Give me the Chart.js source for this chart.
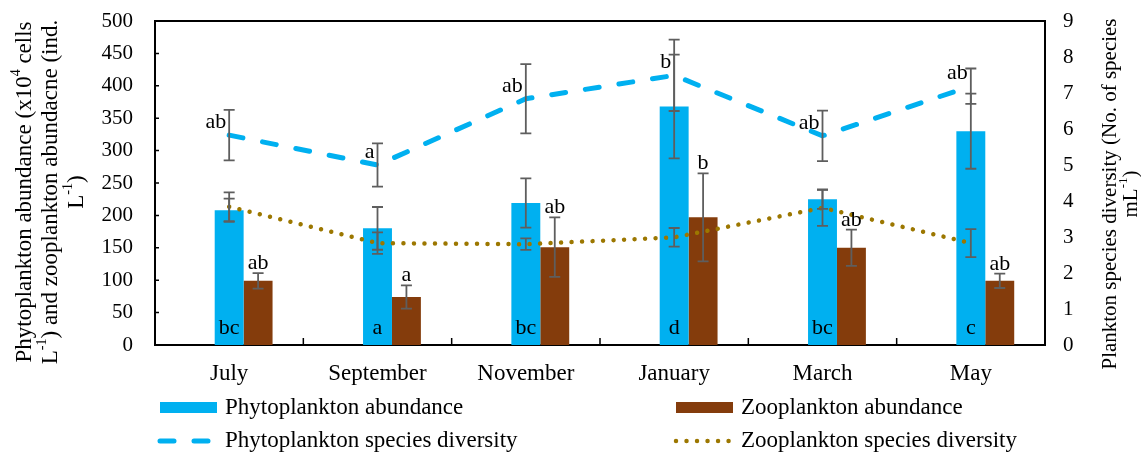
<!DOCTYPE html>
<html>
<head>
<meta charset="utf-8">
<script src="https://cdn.jsdelivr.net/npm/chart.js@4"></script>
<style>
  html, body { margin: 0; padding: 0; background: #ffffff; }
  #wrap { width: 1141px; height: 452px; }
</style>
</head>
<body>
<div id="wrap"><canvas id="c" width="1141" height="452"></canvas></div>
<script>
// Sampling months
const months = ['July', 'September', 'November', 'January', 'March', 'May'];

// Abundance (left axis) with standard errors
const phytoAbundance    = [208, 180, 219, 368, 225, 330];
const phytoAbundanceErr = [18, 33, 38, 80, 15, 58];
const zooAbundance      = [99, 74, 151, 197, 150, 99];
const zooAbundanceErr   = [12, 18, 46, 68, 28, 11];

// Species diversity (right axis) with standard errors
const phytoDiversity    = [5.83, 5.0, 6.84, 7.49, 5.81, 7.19];
const phytoDiversityErr = [0.7, 0.6, 0.96, 0.99, 0.7, 0.49];
const zooDiversity      = [3.84, 2.83, 2.8, 2.99, 3.81, 2.83];
const zooDiversityErr   = [0.4, 0.3, 0.16, 0.26, 0.5, 0.39];

// Significance letters
const phytoAbundanceLetters = ['bc', 'a', 'bc', 'd', 'bc', 'c'];
const zooAbundanceLetters   = ['ab', 'a', 'ab', 'b', 'ab', 'ab'];
const phytoDiversityLetters = ['ab', 'a', 'ab', 'b', 'ab', 'ab'];

// Axis ticks
const leftTicks  = [0, 50, 100, 150, 200, 250, 300, 350, 400, 450, 500];
const rightTicks = [0, 1, 2, 3, 4, 5, 6, 7, 8, 9];

const SERIF = "'Liberation Serif', 'Times New Roman', serif";
const BLUE = '#00B0F0';
const BROWN = '#843C0C';
const GOLD = '#9C7700';
const ERR = '#5E5E5E';

// Draws a line of text with optional superscript runs, centred on (0,0)
function richText(ctx, parts, size) {
  const supSize = Math.round(size * 0.62);
  let total = 0;
  const widths = parts.map(p => {
    ctx.font = (p.sup ? supSize : size) + 'px ' + SERIF;
    const w = ctx.measureText(p.t).width;
    total += w;
    return w;
  });
  let x = -total / 2;
  parts.forEach((p, i) => {
    ctx.font = (p.sup ? supSize : size) + 'px ' + SERIF;
    ctx.fillText(p.t, x, p.sup ? -size * 0.36 : 0);
    x += widths[i];
  });
}

const extras = {
  id: 'planktonExtras',
  afterDatasetsDraw(chart) {
    const ctx = chart.ctx;
    const area = chart.chartArea;
    const y = chart.scales.y, y1 = chart.scales.y1, x = chart.scales.x;

    // error bars
    const drawErr = (px, scale, v, e) => {
      const top = scale.getPixelForValue(v + e);
      const bot = scale.getPixelForValue(v - e);
      ctx.beginPath();
      ctx.moveTo(px, top); ctx.lineTo(px, bot);
      ctx.moveTo(px - 5.5, top); ctx.lineTo(px + 5.5, top);
      ctx.moveTo(px - 5.5, bot); ctx.lineTo(px + 5.5, bot);
      ctx.stroke();
    };
    ctx.save();
    ctx.strokeStyle = ERR;
    ctx.lineWidth = 1.8;
    const phytoBars = chart.getDatasetMeta(1).data;
    const zooBars = chart.getDatasetMeta(2).data;
    const phytoLine = chart.getDatasetMeta(3).data;
    const zooLine = chart.getDatasetMeta(4).data;
    months.forEach((m, i) => {
      drawErr(phytoBars[i].x, y, phytoAbundance[i], phytoAbundanceErr[i]);
      drawErr(zooBars[i].x, y, zooAbundance[i], zooAbundanceErr[i]);
      drawErr(phytoLine[i].x, y1, phytoDiversity[i], phytoDiversityErr[i]);
      drawErr(zooLine[i].x, y1, zooDiversity[i], zooDiversityErr[i]);
    });

    // letters
    ctx.fillStyle = '#000';
    ctx.font = '22px ' + SERIF;
    ctx.textBaseline = 'alphabetic';
    months.forEach((m, i) => {
      ctx.textAlign = 'center';
      ctx.fillText(phytoAbundanceLetters[i], phytoBars[i].x, area.bottom - 11);
      const zTop = y.getPixelForValue(zooAbundance[i] + zooAbundanceErr[i]);
      ctx.fillText(zooAbundanceLetters[i], zooBars[i].x, zTop - 4);
      ctx.textAlign = 'right';
      ctx.fillText(phytoDiversityLetters[i], phytoLine[i].x - 3, phytoLine[i].y - 7);
    });

    // frame: top edge and inward tick marks
    ctx.strokeStyle = '#000';
    ctx.lineWidth = 2;
    ctx.beginPath();
    ctx.moveTo(area.left - 1, area.top);
    ctx.lineTo(area.right + 1, area.top);
    ctx.stroke();
    ctx.lineWidth = 1.5;
    ctx.beginPath();
    leftTicks.forEach(v => {
      const py = y.getPixelForValue(v);
      ctx.moveTo(area.left, py); ctx.lineTo(area.left + 4, py);
    });
    for (let i = 0; i < months.length - 1; i++) {
      const bx = (x.getPixelForValue(i) + x.getPixelForValue(i + 1)) / 2;
      ctx.moveTo(bx, area.bottom); ctx.lineTo(bx, area.bottom - 7);
    }
    ctx.stroke();
    ctx.restore();
  },
  afterDraw(chart) {
    const ctx = chart.ctx;
    ctx.save();
    ctx.fillStyle = '#000';
    ctx.textAlign = 'left';
    ctx.textBaseline = 'middle';

    // left axis title
    const leftLines = [
      [{ t: 'Phytoplankton abundance (x10' }, { t: '4', sup: true }, { t: ' cells' }],
      [{ t: 'L' }, { t: '-1', sup: true }, { t: ') and zooplankton abundacne (ind.' }],
      [{ t: 'L' }, { t: '-1', sup: true }, { t: ')' }]
    ];
    const leftX = [25, 51, 77];
    leftLines.forEach((parts, i) => {
      ctx.save();
      ctx.translate(leftX[i], 192);
      ctx.rotate(-Math.PI / 2);
      richText(ctx, parts, 23);
      ctx.restore();
    });

    // right axis title
    const rightLines = [
      [{ t: 'Plankton species diversity (No. of species' }],
      [{ t: 'mL' }, { t: '-1', sup: true }, { t: ')' }]
    ];
    const rightX = [1110, 1131];
    rightLines.forEach((parts, i) => {
      ctx.save();
      ctx.translate(rightX[i], 194);
      ctx.rotate(-Math.PI / 2);
      richText(ctx, parts, 21);
      ctx.restore();
    });

    // legend
    const ds = chart.data.datasets;
    ctx.font = '23px ' + SERIF;
    ctx.textAlign = 'left';
    ctx.textBaseline = 'middle';
    const cols = [160, 676];
    const rows = [408, 441];
    const items = [
      { d: ds[1], col: 0, row: 0 },
      { d: ds[2], col: 1, row: 0 },
      { d: ds[3], col: 0, row: 1 },
      { d: ds[4], col: 1, row: 1 }
    ];
    items.forEach(it => {
      const lx = cols[it.col], ly = rows[it.row];
      if (it.d.type === 'bar') {
        ctx.fillStyle = it.d.backgroundColor;
        ctx.fillRect(lx, ly - 6, 57, 11);
      } else {
        ctx.save();
        ctx.strokeStyle = it.d.borderColor;
        ctx.lineWidth = it.d.borderWidth;
        ctx.lineCap = it.d.borderCapStyle;
        ctx.setLineDash(it.d.borderDash);
        ctx.beginPath();
        ctx.moveTo(lx, ly); ctx.lineTo(lx + 56, ly);
        ctx.stroke();
        ctx.restore();
      }
      ctx.fillStyle = '#000';
      ctx.fillText(it.d.label, lx + 65, ly);
    });
    ctx.restore();
  }
};

// fixed plot frame: no extra room reserved above/below the value axes
function fixVertical(width) {
  return function (s) {
    s.width = width;
    s.paddingTop = 0;
    s.paddingBottom = 0;
  };
}

new Chart(document.getElementById('c'), {
  type: 'bar',
  data: {
    labels: months,
    datasets: [
      { // empty slot so the phytoplankton bar sits on the category centre
        type: 'bar', label: '', data: months.map(() => null), yAxisID: 'y',
        categoryPercentage: 0.585, barPercentage: 1, order: 2
      },
      {
        type: 'bar', label: 'Phytoplankton abundance', data: phytoAbundance, yAxisID: 'y',
        backgroundColor: BLUE, categoryPercentage: 0.585, barPercentage: 1, order: 2
      },
      {
        type: 'bar', label: 'Zooplankton abundance', data: zooAbundance, yAxisID: 'y',
        backgroundColor: BROWN, categoryPercentage: 0.585, barPercentage: 1, order: 2
      },
      {
        type: 'line', label: 'Phytoplankton species diversity', data: phytoDiversity, yAxisID: 'y1',
        borderColor: BLUE, borderWidth: 5, borderDash: [14, 20], borderCapStyle: 'round',
        pointRadius: 0, tension: 0, fill: false, order: 1
      },
      {
        type: 'line', label: 'Zooplankton species diversity', data: zooDiversity, yAxisID: 'y1',
        borderColor: GOLD, borderWidth: 4.5, borderDash: [0.01, 10.5], borderCapStyle: 'round',
        pointRadius: 0, tension: 0, fill: false, order: 1
      }
    ]
  },
  options: {
    responsive: false,
    devicePixelRatio: 1,
    animation: false,
    layout: { padding: { top: 21, left: 0, right: 0, bottom: 0 } },
    plugins: { legend: { display: false }, tooltip: { enabled: false } },
    scales: {
      x: {
        offset: true,
        grid: { display: false },
        border: { display: true, color: '#000', width: 2 },
        ticks: { color: '#000', font: { family: SERIF, size: 23 }, padding: 7, maxRotation: 0 },
        afterFit(s) { s.height = 107; }
      },
      y: {
        position: 'left', min: 0, max: 500,
        grid: { display: false },
        border: { display: true, color: '#000', width: 2 },
        ticks: { stepSize: 50, color: '#000', font: { family: SERIF, size: 21 }, padding: 14 },
        afterBuildTicks(s) { s.ticks = leftTicks.map(v => ({ value: v })); },
        afterFit: fixVertical(155)
      },
      y1: {
        position: 'right', min: 0, max: 9,
        grid: { display: false },
        border: { display: true, color: '#000', width: 2 },
        ticks: { stepSize: 1, color: '#000', font: { family: SERIF, size: 21 }, padding: 10 },
        afterBuildTicks(s) { s.ticks = rightTicks.map(v => ({ value: v })); },
        afterFit: fixVertical(96)
      }
    }
  },
  plugins: [extras]
});
</script>
</body>
</html>
